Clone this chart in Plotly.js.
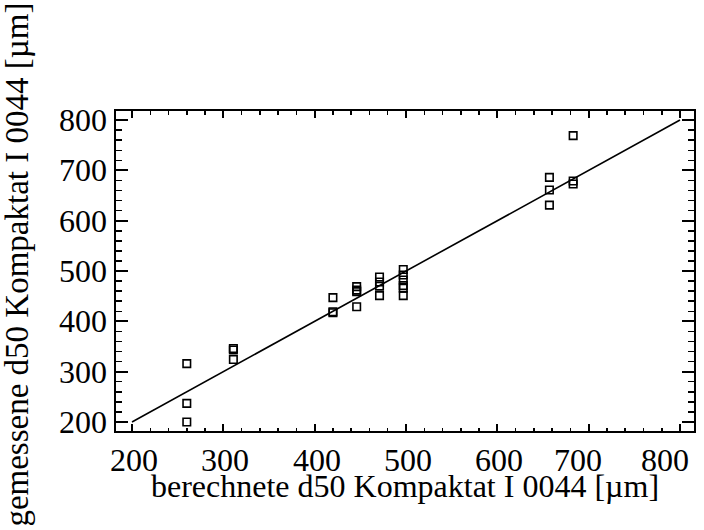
<!DOCTYPE html>
<html>
<head>
<meta charset="utf-8">
<script src="https://cdn.plot.ly/plotly-3.0.1.min.js"></script>
<style>html,body{margin:0;padding:0;background:#fff;}#chart{width:704px;height:530px;}</style>
</head>
<body>
<div id="chart"></div>
<script>
// berechnete d50 (x) vs gemessene d50 (y), µm
const calcD50 = [260, 260, 260, 311, 311, 311, 420, 420, 420, 446, 446, 446, 446, 471, 471, 471, 471, 497, 497, 497, 497, 497, 497, 657, 657, 657, 683, 683, 683];
const measD50 = [316, 237, 200, 346, 343, 324, 447, 419, 417, 469, 462, 459, 429, 488, 478, 470, 451, 503, 492, 482, 471, 466, 451, 686, 661, 631, 769, 679, 673];
const lineX = [200, 800];
const lineY = [200, 800];
const xTicks = [200, 300, 400, 500, 600, 700, 800];
const yTicks = [200, 300, 400, 500, 600, 700, 800];
const xTitle = 'berechnete d50 Kompaktat I 0044 [µm]';
const yTitle = 'gemessene d50 Kompaktat I 0044 [µm]';

const font = 'Liberation Serif';
const txt = {family: font, size: 32, color: '#000'};

const traces = [
  {x: lineX, y: lineY, mode: 'lines', line: {color: '#000', width: 1.6}, hoverinfo: 'skip', showlegend: false},
  {x: calcD50, y: measD50, mode: 'markers', marker: {symbol: 'square-open', size: 7.5, color: '#000', line: {width: 1.6, color: '#000'}}, showlegend: false}
];

// label nudges so the right-most labels stay inside the page, as in the reference
function xLabelShift(v) { return v === 800 ? -15 : (v === 700 ? -11 : 2); }

const annotations = [];
xTicks.forEach(v => annotations.push({
  text: String(v), x: v, xref: 'x', y: 0, yref: 'paper', xanchor: 'center', yanchor: 'middle',
  xshift: xLabelShift(v), yshift: -29, showarrow: false, font: txt
}));
yTicks.forEach(v => annotations.push({
  text: String(v), x: 0, xref: 'paper', y: v, yref: 'y', xanchor: 'right', yanchor: 'middle',
  xshift: -7, yshift: 0, showarrow: false, font: txt
}));
annotations.push({text: xTitle, xref: 'paper', yref: 'paper', x: 0.5, y: -0.172, xanchor: 'center', yanchor: 'middle', showarrow: false, font: txt});
annotations.push({text: yTitle, xref: 'paper', yref: 'paper', x: -0.1713, y: 0.52, xanchor: 'center', yanchor: 'middle', textangle: -90, showarrow: false,
  font: {family: font, size: 33, color: '#000'}});

const layout = {
  width: 704, height: 530,
  margin: {l: 116, r: 10, t: 111, b: 99},
  paper_bgcolor: '#fff', plot_bgcolor: '#fff',
  font: txt,
  showlegend: false,
  xaxis: {
    range: [182.5, 815.3], tickvals: xTicks, showticklabels: false,
    ticks: 'inside', ticklen: 7, tickwidth: 2, tickcolor: '#000',
    showline: true, linewidth: 2, linecolor: '#000', mirror: 'ticks',
    showgrid: false, zeroline: false,
    minor: {dtick: 20, tick0: 200, ticks: 'inside', ticklen: 3.5, tickwidth: 1.5, tickcolor: '#000', showgrid: false}
  },
  yaxis: {
    range: [182, 818], tickvals: yTicks, showticklabels: false,
    ticks: 'inside', ticklen: 12, tickwidth: 2, tickcolor: '#000',
    showline: true, linewidth: 2, linecolor: '#000', mirror: 'ticks',
    showgrid: false, zeroline: false,
    minor: {dtick: 20, tick0: 200, ticks: 'inside', ticklen: 6, tickwidth: 1.5, tickcolor: '#000', showgrid: false}
  },
  annotations: annotations
};

Plotly.newPlot('chart', traces, layout, {displayModeBar: false, staticPlot: true});
</script>
</body>
</html>
